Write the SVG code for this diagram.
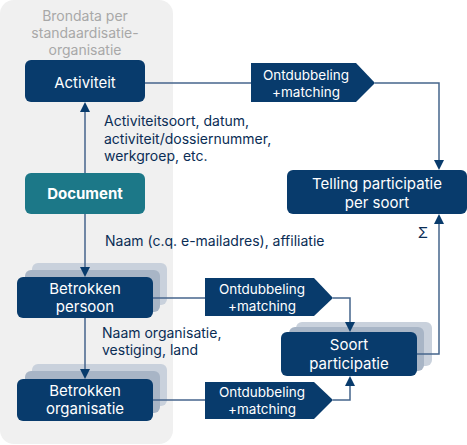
<svg xmlns="http://www.w3.org/2000/svg" width="467" height="445" viewBox="0 0 467 445">
<style>
.node{fill:#083b6c}
.doc{fill:#1c7888}
.l3{fill:#c9d1dc}
.l2{fill:#a8b5c6}
.t{font-family:Inter,"Liberation Sans",sans-serif;font-size:15px;fill:#fff;text-anchor:middle}
.b{font-weight:bold}
.lab{font-family:Inter,"Liberation Sans",sans-serif;font-size:14px;fill:#0a2d55}
.head{font-family:Inter,"Liberation Sans",sans-serif;font-size:14px;fill:#a8a8a8;text-anchor:middle}
.c{fill:none;stroke:#46658c;stroke-width:1.5}
.ah{fill:#083b6c}
.tag{fill:#083b6c}
.tt{font-family:Inter,"Liberation Sans",sans-serif;font-size:13.5px;fill:#fff;text-anchor:middle}
</style>
<rect x="0" y="0" width="173" height="444" rx="14" fill="#f0f0f0"/>
<g id="heading">
<text class="head" x="85" y="21">Brondata per</text>
<text class="head" x="85" y="38">standaardisatie-</text>
<text class="head" x="85" y="55">organisatie</text>
</g>
<g id="activiteit">
<rect class="node" x="25" y="60" width="120" height="42" rx="6"/>
<text class="t" x="85" y="88">Activiteit</text>
</g>
<g id="document">
<rect class="doc" x="25" y="173" width="120" height="41" rx="6"/>
<text class="t b" x="85" y="199">Document</text>
</g>
<g id="betrokken-persoon">
<rect class="l3" x="32" y="263" width="135" height="42" rx="6"/>
<rect class="l2" x="25" y="270" width="135" height="42" rx="6"/>
<rect class="node" x="17" y="277" width="136" height="41" rx="6"/>
<text class="t" x="85" y="294">Betrokken</text>
<text class="t" x="85" y="312">persoon</text>
</g>
<g id="betrokken-organisatie">
<rect class="l3" x="32" y="364" width="135" height="42" rx="6"/>
<rect class="l2" x="25" y="371" width="135" height="42" rx="6"/>
<rect class="node" x="17" y="379" width="136" height="42" rx="6"/>
<text class="t" x="85" y="396">Betrokken</text>
<text class="t" x="85" y="414">organisatie</text>
</g>
<g id="soort-participatie">
<rect class="l3" x="296" y="322" width="136" height="44" rx="6"/>
<rect class="l2" x="289" y="327" width="135" height="44" rx="6"/>
<rect class="node" x="281" y="332" width="136" height="44" rx="6"/>
<text class="t" x="349" y="350">Soort</text>
<text class="t" x="349" y="369">participatie</text>
</g>
<g id="telling">
<rect class="node" x="287" y="170" width="180" height="44" rx="6"/>
<text class="t" x="377" y="189">Telling participatie</text>
<text class="t" x="377" y="208">per soort</text>
</g>
<g id="ontdubbeling-1">
<path class="tag" d="M251,63 H356 L375,83 L356,102 H251 z"/>
<text class="tt" x="306" y="80">Ontdubbeling</text>
<text class="tt" x="306" y="97">+matching</text>
</g>
<g id="ontdubbeling-2">
<path class="tag" d="M205,278 H314 L333,298 L314,316 H205 z"/>
<text class="tt" x="262" y="294">Ontdubbeling</text>
<text class="tt" x="262" y="311">+matching</text>
</g>
<g id="ontdubbeling-3">
<path class="tag" d="M205,382 H314 L333,400 L314,419 H205 z"/>
<text class="tt" x="262" y="397">Ontdubbeling</text>
<text class="tt" x="262" y="414">+matching</text>
</g>
<g id="connectors">
<path class="c" d="M145,83 H251"/>
<path class="c" d="M375,83 H439 V162"/>
<path class="ah" d="M434,160 L444,160 L439,170 z"/>
<path class="c" d="M85,173 V110"/>
<path class="ah" d="M80,112 L90,112 L85,102 z"/>
<path class="c" d="M85,214 V269"/>
<path class="ah" d="M80,267 L90,267 L85,277 z"/>
<path class="c" d="M85,318 V371"/>
<path class="ah" d="M80,369 L90,369 L85,379 z"/>
<path class="c" d="M153,298 H205"/>
<path class="c" d="M333,298 H350 V324"/>
<path class="ah" d="M345,322 L355,322 L350,332 z"/>
<path class="c" d="M153,400 H205"/>
<path class="c" d="M333,400 H350 V384"/>
<path class="ah" d="M345,386 L355,386 L350,376 z"/>
<path class="c" d="M417,354 H439 V222"/>
<path class="ah" d="M434,224 L444,224 L439,214 z"/>
<text x="423" y="238" font-family="Inter,'Liberation Sans',sans-serif" font-size="15" fill="#0a2d55" text-anchor="middle">Σ</text>
<text class="lab" x="104" y="126">Activiteitsoort, datum,</text>
<text class="lab" x="104" y="144">activiteit/dossiernummer,</text>
<text class="lab" x="104" y="161">werkgroep, etc.</text>
<text class="lab" x="105" y="246">Naam (c.q. e-mailadres), affiliatie</text>
<text class="lab" x="102" y="338">Naam organisatie,</text>
<text class="lab" x="102" y="355">vestiging, land</text>
</g>
</svg>
